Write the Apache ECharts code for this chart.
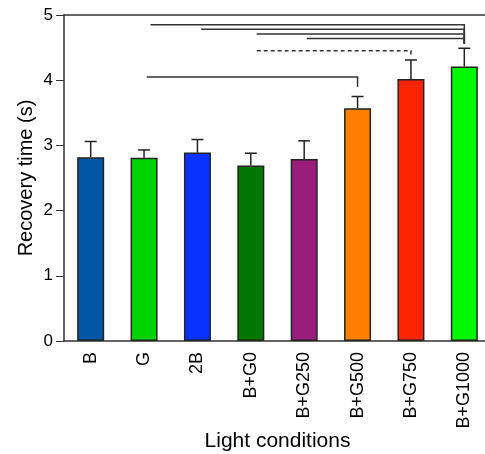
<!DOCTYPE html>
<html>
<head>
<meta charset="utf-8">
<script src="https://cdn.jsdelivr.net/npm/echarts@6/dist/echarts.min.js"></script>
<style>
  html, body { margin: 0; padding: 0; background: #fff; }
  #chart { width: 485px; height: 454px; }
</style>
</head>
<body>
<div id="chart"></div>
<script>
// conditions and measured recovery time (mean, error)
var categories = ['B', 'G', '2B', 'B+G0', 'B+G250', 'B+G500', 'B+G750', 'B+G1000'];
var means = [2.82, 2.81, 2.89, 2.69, 2.79, 3.57, 4.02, 4.21];
var errors = [0.24, 0.12, 0.20, 0.19, 0.28, 0.18, 0.29, 0.28];
var barColors = ['#0055a5', '#00d200', '#0a32ff', '#007800', '#991e7c', '#ff8000', '#ff2400', '#00f800'];
var yTicks = [0, 1, 2, 3, 4, 5];

// significance brackets (x in category units)
var sigFrom = [1.12, 2.07, 3.11, 4.05, 3.11, 1.05];
var sigTo = [7, 7, 7, 7, 6, 5];
var sigY = [4.85, 4.78, 4.71, 4.64, 4.45, 4.05];
var sigDrop = [4.56, 4.56, 4.56, 4.56, 4.36, 3.90];
var sigDashed = [0, 0, 0, 0, 1, 0];

var font = 'Liberation Sans';
var myChart = echarts.init(document.getElementById('chart'));

var errData = categories.map(function(c, i) { return [i, means[i], errors[i]]; });
var sigData = sigFrom.map(function(f, i) { return [f, sigTo[i], sigY[i], sigDrop[i], sigDashed[i]]; });

var option = {
	animation: false,
	grid: { left: 64, top: 15, width: 427, height: 326, containLabel: false, outerBoundsMode: 'none' },
	xAxis: [
		{
			type: 'category',
			data: categories,
			position: 'bottom',
			name: 'Light conditions',
			nameLocation: 'middle',
			nameMoveOverlap: false,
			nameGap: 90,
			nameTextStyle: { fontFamily: font, fontSize: 21, color: '#000' },
			axisLine: { onZero: false, lineStyle: { color: '#333', width: 1.5 } },
			axisTick: { show: false },
			axisLabel: { rotate: 90, margin: 11, fontFamily: font, fontSize: 18, color: '#000' }
		},
		{
			type: 'value',
			position: 'top',
			min: -0.5,
			max: 7.5,
			axisLine: { show: true, onZero: false, lineStyle: { color: '#333', width: 1.5 } },
			axisTick: { show: false },
			axisLabel: { show: false },
			splitLine: { show: false }
		}
	],
	yAxis: {
		type: 'value',
		min: 0,
		max: 5,
		interval: 1,
		name: 'Recovery time (s)',
		nameLocation: 'middle',
		nameMoveOverlap: false,
		nameGap: 28,
		nameTextStyle: { fontFamily: font, fontSize: 20, color: '#000' },
		axisLine: { show: true, onZero: false, lineStyle: { color: '#333', width: 1.5 } },
		axisTick: { show: true, length: 8, lineStyle: { color: '#333', width: 1 } },
		axisLabel: { margin: 11, fontFamily: font, fontSize: 17, color: '#000',
			formatter: function(v) { return yTicks.indexOf(v) >= 0 ? String(v) : ''; } },
		splitLine: { show: false }
	},
	series: [
		{
			type: 'bar',
			barWidth: 27,
			data: means.map(function(v, i) {
				return { value: v, itemStyle: { color: barColors[i] } };
			}),
			itemStyle: { borderColor: '#222', borderWidth: 1.5 }
		},
		{
			type: 'custom',
			data: errData,
			z: 5,
			renderItem: function(params, api) {
				var x = api.value(0), m = api.value(1), e = api.value(2);
				var p0 = api.coord([x, m]);
				var p1 = api.coord([x, m + e]);
				var st = { stroke: '#222', lineWidth: 1.5 };
				return {
					type: 'group',
					children: [
						{ type: 'line', shape: { x1: p0[0], y1: p0[1], x2: p1[0], y2: p1[1] }, style: st },
						{ type: 'line', shape: { x1: p1[0] - 6, y1: p1[1], x2: p1[0] + 6, y2: p1[1] }, style: st }
					]
				};
			}
		},
		{
			type: 'custom',
			xAxisIndex: 1,
			data: sigData,
			z: 5,
			clip: false,
			renderItem: function(params, api) {
				var a = api.coord([api.value(0), api.value(2)]);
				var b = api.coord([api.value(1), api.value(2)]);
				var c = api.coord([api.value(1), api.value(3)]);
				return {
					type: 'polyline',
					shape: { points: [a, b, c] },
					style: {
						stroke: '#333',
						fill: null,
						lineWidth: 1.5,
						lineDash: api.value(4) ? [4, 3] : null
					}
				};
			}
		}
	]
};
myChart.setOption(option);
</script>
</body>
</html>
